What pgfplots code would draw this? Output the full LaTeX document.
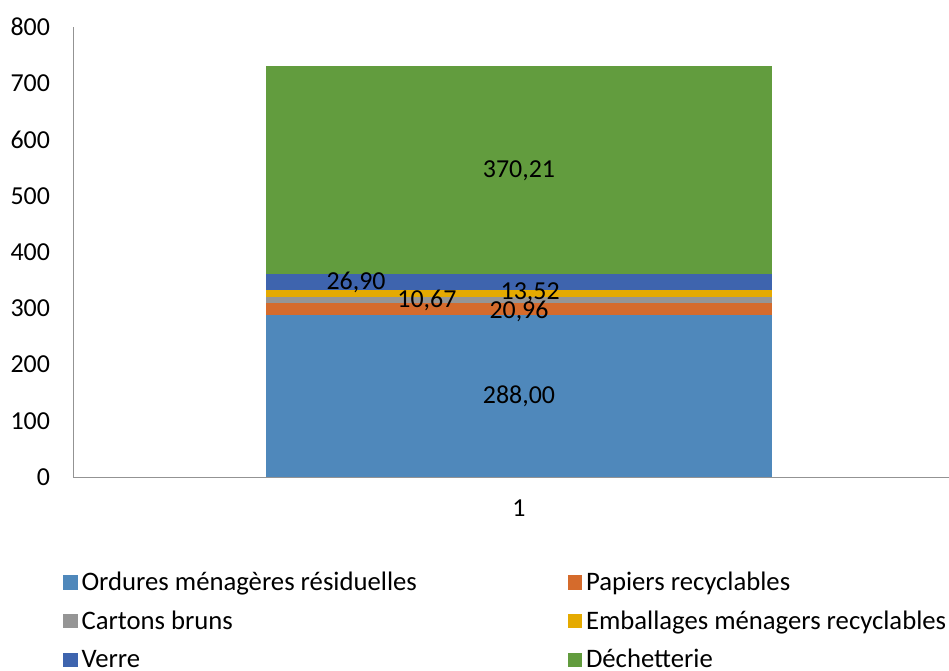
\documentclass[border=0pt]{standalone}
\usepackage{fontspec}
\setmainfont{Carlito}
\usepackage{pgfplots}
\pgfplotsset{compat=1.18}
\definecolor{omr}{HTML}{4F88BB}
\definecolor{pap}{HTML}{D56B2C}
\definecolor{car}{HTML}{959595}
\definecolor{emb}{HTML}{E5AA00}
\definecolor{ver}{HTML}{3E64AE}
\definecolor{dec}{HTML}{629C3E}
\tikzset{lab/.style={font=\fontsize{13}{15.6}\selectfont, inner sep=0pt}}
\begin{document}
\begin{tikzpicture}
\path[use as bounding box] (-36.5bp,-97bp) rectangle (438bp,238.5bp);
\begin{axis}[
  at={(0,0)}, anchor=south west,
  scale only axis, width=438bp, height=225bp,
  ybar stacked, bar width=1,
  xmin=0.1186, xmax=1.8498, ymin=0, ymax=800,
  ytick={0,100,...,800}, xtick={1},
  axis x line*=bottom, axis y line*=left,
  axis line style={draw=gray!85, -},
  major tick length=0,
  /pgf/number format/assume math mode=true,
  tick label style={font=\fontsize{13}{15.6}\selectfont},
  yticklabel style={xshift=-8bp},
  xticklabel style={yshift=-8bp},
  clip=false,
  legend columns=2,
  legend cell align=left,
  legend style={at={(-0.0183,-0.192)}, anchor=north west, draw=none, fill=none,
    font=\fontsize{13.4}{16}\selectfont, row sep=4.6bp,
    /tikz/column 2/.style={column sep=73.5bp}},
  legend image code/.code={\fill[#1] (0.5bp,-3.6bp) rectangle (7.6bp,3.6bp);},
]
\addplot[fill=omr, draw=none] coordinates {(1,288.00)};
\addlegendentry{Ordures ménagères résiduelles}
\addplot[fill=pap, draw=none] coordinates {(1,20.96)};
\addlegendentry{Papiers recyclables}
\addplot[fill=car, draw=none] coordinates {(1,10.67)};
\addlegendentry{Cartons bruns}
\addplot[fill=emb, draw=none] coordinates {(1,13.52)};
\addlegendentry{Emballages ménagers recyclables}
\addplot[fill=ver, draw=none] coordinates {(1,26.90)};
\addlegendentry{Verre}
\addplot[fill=dec, draw=none] coordinates {(1,370.21)};
\addlegendentry{Déchetterie}
\coordinate (l1) at (axis cs:1,144);
\coordinate (l2) at (axis cs:1,545);
\coordinate (l3) at (axis cs:0.678,346);
\coordinate (l4) at (axis cs:0.818,313.5);
\coordinate (l5) at (axis cs:1.022,328);
\coordinate (l6) at (axis cs:1.0,294);
\end{axis}
\node[lab] at (l1) {288,00};
\node[lab] at (l2) {370,21};
\node[lab] at (l3) {26,90};
\node[lab] at (l4) {10,67};
\node[lab] at (l5) {13,52};
\node[lab] at (l6) {20,96};
\end{tikzpicture}
\end{document}
